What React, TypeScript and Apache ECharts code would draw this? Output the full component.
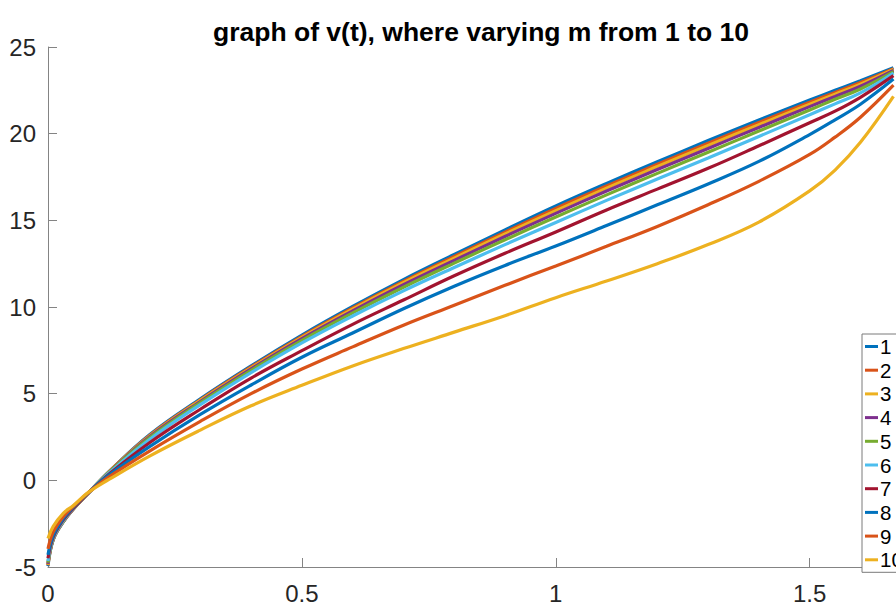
import React, { useEffect, useRef } from "react";
import * as echarts from "echarts";

const xs = [0, 0.01, 0.03, 0.05, 0.08, 0.12, 0.2, 0.3, 0.4, 0.5, 0.6, 0.7, 0.8, 0.9, 1.0, 1.1, 1.2, 1.3, 1.4, 1.5, 1.55, 1.6, 1.665];

const m1 = [-4.95, -3.45, -2.4, -1.65, -0.72, 0.5, 2.63, 4.7, 6.6, 8.38, 10.03, 11.58, 13.03, 14.45, 15.83, 17.13, 18.38, 19.6, 20.79, 21.94, 22.5, 23.05, 23.8];
const m2 = [-4.9, -3.43, -2.39, -1.65, -0.72, 0.49, 2.59, 4.65, 6.54, 8.31, 9.95, 11.48, 12.92, 14.32, 15.69, 16.98, 18.23, 19.45, 20.65, 21.81, 22.38, 22.95, 23.75];
const m3 = [-4.87, -3.42, -2.38, -1.65, -0.72, 0.48, 2.55, 4.61, 6.49, 8.25, 9.88, 11.4, 12.82, 14.21, 15.56, 16.86, 18.1, 19.32, 20.52, 21.7, 22.28, 22.85, 23.7];
const m4 = [-4.82, -3.41, -2.37, -1.64, -0.72, 0.46, 2.51, 4.55, 6.43, 8.18, 9.78, 11.29, 12.69, 14.07, 15.4, 16.69, 17.93, 19.15, 20.36, 21.56, 22.15, 22.74, 23.65];
const m5 = [-4.75, -3.39, -2.36, -1.63, -0.71, 0.45, 2.45, 4.48, 6.35, 8.08, 9.66, 11.14, 12.53, 13.88, 15.19, 16.47, 17.71, 18.93, 20.15, 21.37, 21.98, 22.58, 23.58];
const m6 = [-4.65, -3.37, -2.34, -1.62, -0.71, 0.42, 2.36, 4.37, 6.22, 7.93, 9.48, 10.93, 12.28, 13.6, 14.88, 16.15, 17.38, 18.6, 19.84, 21.09, 21.72, 22.35, 23.5];
const m7 = [-4.5, -3.3, -2.28, -1.6, -0.7, 0.35, 2.17, 4.1, 5.9, 7.48, 9.0, 10.4, 11.8, 13.1, 14.33, 15.6, 16.8, 18.0, 19.3, 20.63, 21.3, 22.1, 23.35];
const m8 = [-4.3, -3.2, -2.2, -1.55, -0.7, 0.3, 1.94, 3.8, 5.5, 7.1, 8.5, 9.9, 11.2, 12.4, 13.52, 14.7, 15.9, 17.1, 18.4, 19.95, 20.8, 21.7, 23.15];
const m9 = [-3.95, -3.0, -2.1, -1.5, -0.7, 0.2, 1.69, 3.4, 5.0, 6.42, 7.7, 8.95, 10.1, 11.25, 12.37, 13.5, 14.65, 15.9, 17.25, 18.8, 19.8, 20.95, 22.8];
const m10 = [-3.35, -2.67, -1.9, -1.45, -0.68, 0.05, 1.4, 2.9, 4.3, 5.48, 6.6, 7.6, 8.55, 9.5, 10.54, 11.5, 12.5, 13.6, 14.9, 16.7, 17.9, 19.5, 22.15];

const seriesNames = ["1", "2", "3", "4", "5", "6", "7", "8", "9", "10"];
const seriesValues = [m1, m2, m3, m4, m5, m6, m7, m8, m9, m10];
const colors = ["#0072BD", "#D95319", "#EDB120", "#7E2F8E", "#77AC30", "#4DBEEE", "#A2142F", "#0072BD", "#D95319", "#EDB120"];

const titleText = "graph of v(t), where varying m from 1 to 10";
const FONT = "'Liberation Sans', Arial, Helvetica, sans-serif";

export default function App() {
  const ref = useRef<HTMLDivElement>(null);
  useEffect(() => {
    document.body.style.margin = "0";
    if (!ref.current) return;
    const chart = echarts.init(ref.current, undefined, { renderer: "svg" });
    chart.setOption({
      animation: false,
      backgroundColor: "#ffffff",
      color: colors,
      title: {
        text: titleText,
        left: 476,
        top: 13,
        textAlign: "center",
        textStyle: { fontFamily: FONT, fontSize: 26.5, fontWeight: "bold", color: "#000000" },
      },
      legend: {
        orient: "vertical",
        left: 862,
        top: 334,
        padding: [2, 30, 2, 3],
        itemWidth: 13,
        itemHeight: 3,
        itemGap: 2.7,
        icon: "rect",
        selectedMode: false,
        borderColor: "#7a7a7a",
        borderWidth: 1,
        backgroundColor: "#ffffff",
        textStyle: { fontFamily: FONT, fontSize: 20.5, lineHeight: 20, color: "#000000", padding: [0, 0, 0, -3] },
        data: seriesNames,
      },
      grid: { left: 48, right: 0, top: 47, bottom: 39, containLabel: false },
      xAxis: {
        type: "value",
        min: 0,
        max: 1.67,
        interval: 0.5,
        axisLine: { show: true, onZero: false, lineStyle: { color: "#848484", width: 1 } },
        axisTick: { show: true, inside: true, length: 9, lineStyle: { color: "#848484" } },
        axisLabel: { showMaxLabel: false, fontFamily: FONT, fontSize: 24, color: "#262626", margin: 14 },
        splitLine: { show: false },
      },
      yAxis: {
        type: "value",
        min: -5,
        max: 25,
        interval: 5,
        axisLine: { show: true, onZero: false, lineStyle: { color: "#848484", width: 1 } },
        axisTick: { show: true, inside: true, length: 9, lineStyle: { color: "#848484" } },
        axisLabel: { fontFamily: FONT, fontSize: 24, color: "#262626", margin: 12 },
        splitLine: { show: false },
      },
      series: seriesValues.map((vals, i) => ({
        name: seriesNames[i],
        type: "line",
        data: xs.map((x, j) => [x, vals[j]]),
        showSymbol: false,
        smooth: 0.4,
        lineStyle: { width: 3.2, color: colors[i] },
        itemStyle: { color: colors[i] },
        z: 2 + i,
      })),
    });
    return () => chart.dispose();
  }, []);
  return <div ref={ref} style={{ width: 896, height: 606 }} />;
}
